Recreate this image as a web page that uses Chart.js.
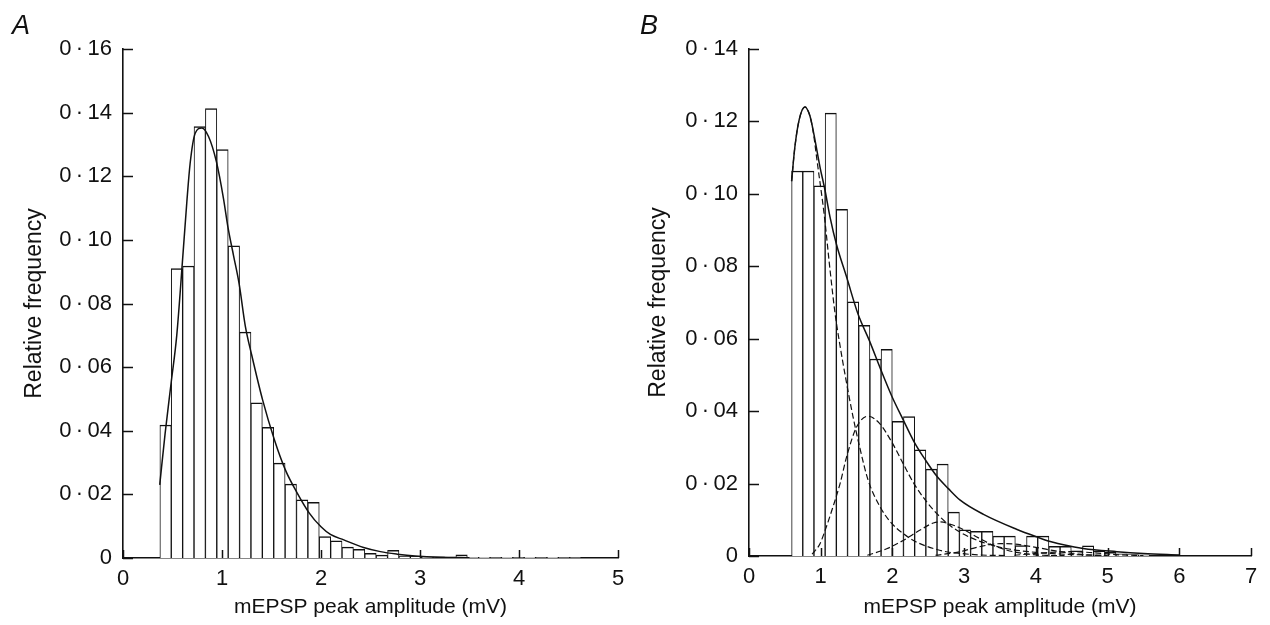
<!DOCTYPE html>
<html>
<head>
<meta charset="utf-8">
<script src="https://cdn.jsdelivr.net/npm/chart.js@4.4.0/dist/chart.umd.min.js"></script>
<style>
  html, body { margin: 0; padding: 0; background: #fff; }
  #wrap { position: relative; width: 1270px; height: 625px; overflow: hidden; background: #fff; }
  canvas { position: absolute; top: 0; }
  #cA { left: 0; }
  #cB { left: 635px; }
  .panel { position: absolute; top: 10px; font: italic 27px "Liberation Sans", Arial, sans-serif; color: #111; }
</style>
</head>
<body>
<div id="wrap">
  <canvas id="cA" width="635" height="625"></canvas>
  <canvas id="cB" width="635" height="625"></canvas>
  <div class="panel" style="left:12px">A</div>
  <div class="panel" style="left:640px">B</div>
</div>
<script>
// ---- Panel A: mEPSP amplitude histogram (bin centres in mV, relative frequency) ----
const binsA = [0.43, 0.545, 0.66, 0.775, 0.89, 1.005, 1.12, 1.235, 1.35, 1.465, 1.58, 1.695,
               1.81, 1.925, 2.04, 2.155, 2.27, 2.385, 2.5, 2.615, 2.73, 2.845, 2.96, 3.075,
               3.19, 3.305, 3.42, 3.535, 3.65, 3.765, 3.88, 3.995, 4.11, 4.225, 4.34, 4.455, 4.57];
const freqA = [0.0418, 0.0910, 0.0918, 0.1356, 0.1413, 0.1284, 0.0981, 0.0710, 0.0488, 0.0411, 0.0298, 0.0232,
               0.0183, 0.0175, 0.0067, 0.0054, 0.0034, 0.0027, 0.0015, 0.0009, 0.0024, 0.0006, 0.0005, 0.0004,
               0.0004, 0.0003, 0.0010, 0.0002, 0.0002, 0.0001, 0.0002, 0.0001, 0.0002, 0.0001, 0.0002, 0.0001, 0.0001];

// fitted distribution for panel A
const fitAx = [0.371, 0.425, 0.486, 0.543, 0.60, 0.645, 0.678, 0.729, 0.796, 0.864, 0.944, 1.015, 1.06,
               1.117, 1.174, 1.235, 1.30, 1.41, 1.53, 1.64, 1.76, 1.88, 2.0, 2.095, 2.23, 2.43, 2.6, 2.77, 2.95, 3.2, 3.5];
const fitAy = [0.0230, 0.0390, 0.0550, 0.0700, 0.0930, 0.1120, 0.1240, 0.1335, 0.1352, 0.1325, 0.1245, 0.1130, 0.1040,
               0.0950, 0.0860, 0.0730, 0.0638, 0.0497, 0.0371, 0.0277, 0.0204, 0.0142, 0.0098, 0.0074, 0.0057, 0.0033, 0.0020, 0.0012, 0.0006, 0.0002, 0.0001];

// ---- Panel B: mEPSP amplitude histogram ----
const binsB = [0.672, 0.828, 0.984, 1.140, 1.296, 1.452, 1.608, 1.764, 1.920, 2.076, 2.232, 2.388,
               2.544, 2.700, 2.856, 3.012, 3.168, 3.324, 3.480, 3.636, 3.792, 3.948, 4.104, 4.260,
               4.416, 4.572, 4.728, 4.884, 5.040, 5.196, 5.352, 5.508];
const freqB = [0.1063, 0.1063, 0.1022, 0.1223, 0.0957, 0.0702, 0.0637, 0.0544, 0.0571, 0.0372, 0.0385, 0.0293,
               0.0240, 0.0254, 0.0121, 0.0072, 0.0068, 0.0068, 0.0055, 0.0055, 0.0029, 0.0055, 0.0055, 0.0027,
               0.0027, 0.0014, 0.0028, 0.0014, 0.0010, 0.0006, 0.0004, 0.0003];

// summed fit (solid) for panel B
const sumBx = [0.594, 0.64, 0.70, 0.78, 0.85, 0.90, 0.99, 1.06, 1.13, 1.22, 1.36, 1.52, 1.68, 1.835, 1.99,
               2.15, 2.30, 2.46, 2.62, 2.78, 2.94, 3.27, 3.73, 4.01, 4.20, 4.66, 5.13, 5.5, 6.0];
const sumBy = [0.1035, 0.1130, 0.1205, 0.1240, 0.1215, 0.1170, 0.1074, 0.1010, 0.0936, 0.0860, 0.0771, 0.0668, 0.0594, 0.0516, 0.0442,
               0.0376, 0.0316, 0.0265, 0.0220, 0.0186, 0.0155, 0.0115, 0.0074, 0.0053, 0.0040, 0.0021, 0.0012, 0.0007, 0.0003];

// individual components (dashed) for panel B
const comp1Bx = [0.594, 0.64, 0.70, 0.78, 0.85, 0.90, 0.95, 1.05, 1.13, 1.20, 1.27, 1.34, 1.45, 1.55, 1.66, 1.83, 1.99,
                 2.15, 2.30, 2.46, 2.62, 2.77, 2.95, 3.2, 3.6];
const comp1By = [0.1035, 0.1130, 0.1205, 0.1240, 0.1215, 0.1165, 0.1090, 0.0940, 0.0790, 0.0670, 0.0580, 0.0500, 0.0385, 0.0295, 0.0210, 0.0135, 0.0090,
                 0.0062, 0.0042, 0.0028, 0.0018, 0.0011, 0.0007, 0.0003, 0.0001];
const comp2Bx = [0.88, 0.99, 1.06, 1.17, 1.27, 1.36, 1.50, 1.66, 1.82, 1.99, 2.15, 2.30, 2.46, 2.62, 2.77, 2.94,
                 3.1, 3.3, 3.6, 4.0, 4.5, 5.0];
const comp2By = [0.0005, 0.0034, 0.0070, 0.0135, 0.0200, 0.0273, 0.0356, 0.0386, 0.0366, 0.0315, 0.0255, 0.0200, 0.0154, 0.0117, 0.0089, 0.0066,
                 0.0050, 0.0035, 0.0020, 0.0010, 0.0004, 0.0001];
const comp3Bx = [1.65, 1.92, 2.15, 2.38, 2.57, 2.66, 2.85, 3.0, 3.2, 3.4, 3.6, 3.8, 4.1, 4.4];
const comp3By = [0.0002, 0.0020, 0.0043, 0.0071, 0.0091, 0.0094, 0.0085, 0.0072, 0.0050, 0.0030, 0.0016, 0.0008, 0.0002, 0.0001];
const comp4Bx = [2.6, 2.9, 3.2, 3.5, 3.7, 4.0, 4.3, 4.6, 5.0];
const comp4By = [0.0002, 0.0010, 0.0025, 0.0034, 0.0033, 0.0024, 0.0013, 0.0005, 0.0001];
const comp5Bx = [3.7, 4.0, 4.3, 4.5, 4.8, 5.1, 5.5];
const comp5By = [0.0002, 0.0007, 0.0011, 0.0012, 0.0009, 0.0004, 0.0001];

// axis tick settings
const xTicksA = { max: 5, step: 1 };
const yTicksA = { max: 0.16, step: 0.02 };
const xTicksB = { max: 7, step: 1 };
const yTicksB = { max: 0.14, step: 0.02 };

const FONT = '"Liberation Sans", Arial, Helvetica, sans-serif';
const INK = '#111';

const pts = (xs, ys) => xs.map((x, i) => ({ x: x, y: ys[i] }));
// decimal written with a raised point, e.g. 0·12
const fmtY = v => (Math.abs(v) < 1e-9 ? '0' : v.toFixed(2).replace('.', '\u2009\u00B7\u2009'));

// short tick marks pointing into the plot area
const inwardTicks = {
  id: 'inwardTicks',
  afterDraw(chart) {
    const { ctx, chartArea: a, scales } = chart;
    const xs = scales.x, ys = scales.y;
    ctx.save();
    ctx.strokeStyle = INK;
    ctx.lineWidth = 1.5;
    ctx.beginPath();
    xs.ticks.forEach(t => {
      const px = Math.round(xs.getPixelForValue(t.value)) + 0.5;
      ctx.moveTo(px, a.bottom);
      ctx.lineTo(px, a.bottom - 8);
    });
    ys.ticks.forEach(t => {
      const py = Math.round(ys.getPixelForValue(t.value)) + 0.5;
      ctx.moveTo(a.left, py);
      ctx.lineTo(a.left + 10, py);
    });
    ctx.stroke();
    ctx.restore();
  }
};

function barSet(bins, freq) {
  return {
    type: 'bar',
    data: pts(bins, freq),
    backgroundColor: '#fff',
    borderColor: INK,
    borderWidth: { top: 1.5, left: 1, right: 1, bottom: 0 },
    borderSkipped: false,
    barPercentage: 1,
    categoryPercentage: 1,
    order: 2
  };
}

function lineSet(xs, ys, dashed) {
  return {
    type: 'line',
    data: pts(xs, ys),
    borderColor: INK,
    borderWidth: dashed ? 1.2 : 1.5,
    borderDash: dashed ? [6, 3] : [],
    pointRadius: 0,
    fill: false,
    cubicInterpolationMode: 'monotone',
    order: 1
  };
}

function makeScales(xt, yt, yWidth, xHeight, yTitlePad) {
  return {
    x: {
      type: 'linear', min: 0, max: xt.max, offset: false,
      ticks: { stepSize: xt.step, color: INK, font: { family: FONT, size: 22 }, padding: 8, maxRotation: 0, autoSkip: false },
      grid: { display: false, drawTicks: false },
      border: { display: true, color: INK, width: 1.6 },
      title: { display: true, text: 'mEPSP peak amplitude (mV)', color: INK,
               font: { family: FONT, size: 21 }, padding: { top: 0, bottom: 5 } },
      afterFit(s) { s.height = xHeight; }
    },
    y: {
      type: 'linear', min: 0, max: yt.max,
      ticks: { stepSize: yt.step, color: INK, font: { family: FONT, size: 22 }, padding: 11,
               callback: v => fmtY(v) },
      grid: { display: false, drawTicks: false },
      border: { display: true, color: INK, width: 1.6 },
      title: { display: true, text: 'Relative frequency', color: INK,
               font: { family: FONT, size: 23 }, padding: { top: yTitlePad, bottom: 0 } },
      afterFit(s) { s.width = yWidth; }
    }
  };
}

function baseOptions(scales, padRight) {
  return {
    responsive: false,
    animation: false,
    layout: { padding: { top: 49, right: padRight, bottom: 0, left: 0 } },
    plugins: { legend: { display: false }, tooltip: { enabled: false } },
    scales: scales
  };
}

new Chart(document.getElementById('cA'), {
  type: 'bar',
  data: {
    datasets: [
      lineSet(fitAx, fitAy, false),
      barSet(binsA, freqA)
    ]
  },
  options: baseOptions(makeScales(xTicksA, yTicksA, 123, 67, 21), 17),
  plugins: [inwardTicks]
});

new Chart(document.getElementById('cB'), {
  type: 'bar',
  data: {
    datasets: [
      lineSet(sumBx, sumBy, false),
      lineSet(comp1Bx, comp1By, true),
      lineSet(comp2Bx, comp2By, true),
      lineSet(comp3Bx, comp3By, true),
      lineSet(comp4Bx, comp4By, true),
      lineSet(comp5Bx, comp5By, true),
      barSet(binsB, freqB)
    ]
  },
  options: baseOptions(makeScales(xTicksB, yTicksB, 114, 69, 10), 19),
  plugins: [inwardTicks]
});
</script>
</body>
</html>
